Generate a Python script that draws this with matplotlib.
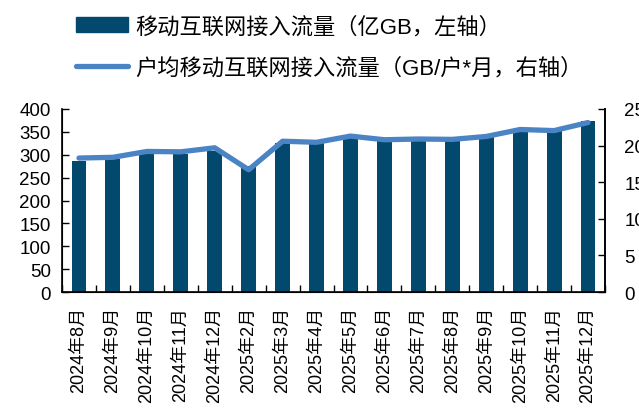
import matplotlib
matplotlib.use("Agg")
import matplotlib.pyplot as plt
from matplotlib.patches import Patch
from matplotlib.lines import Line2D
import numpy as np

plt.rcParams['font.family'] = ['Liberation Sans', 'Noto Sans CJK SC', 'DejaVu Sans']

months = ["2024年8月", "2024年9月", "2024年10月", "2024年11月", "2024年12月",
          "2025年2月", "2025年3月", "2025年4月", "2025年5月", "2025年6月",
          "2025年7月", "2025年8月", "2025年9月", "2025年10月", "2025年11月", "2025年12月"]
traffic = [287, 291, 303, 302, 309, 276, 326, 325, 338, 333, 333, 333, 340, 353, 353, 373]
per_user = [18.3, 18.4, 19.2, 19.15, 19.7, 16.7, 20.6, 20.45, 21.3, 20.8, 20.9, 20.85, 21.25, 22.2, 22.05, 23.15]

bar_color = "#03496d"
line_color = "#4a84c4"

fig = plt.figure(figsize=(6.39, 4.14), dpi=100)
ax = fig.add_axes([62/639, 1-293/414, (605-62)/639, (293-110)/414])
x = np.arange(len(months))
ax.bar(x, traffic, width=0.44, color=bar_color, zorder=2)
ax.set_ylim(0, 400)
ax.set_xlim(-0.5, len(months)-0.5)
ax.set_yticks(np.arange(0, 401, 50))
ax.tick_params(axis='y', direction='in', length=5, width=1, labelsize=13.5, pad=8)
ax.set_xticks(x)
ax.set_xticklabels(months, rotation=90, fontsize=13)
ax.tick_params(axis='x', which='major', length=0, pad=10)
ax.set_xticks(np.arange(-0.5, len(months), 1), minor=True)
ax.tick_params(axis='x', which='minor', direction='in', length=5, width=1)
ax.spines['top'].set_visible(False)
for s in ['left', 'bottom', 'right']:
    ax.spines[s].set_linewidth(1.2)

ax2 = ax.twinx()
ax2.plot(x, per_user, color=line_color, lw=3.8, solid_capstyle='round', zorder=3)
ax2.set_ylim(0, 25)
ax2.set_yticks(np.arange(0, 26, 5))
ax2.tick_params(axis='y', direction='in', length=5, width=1, labelsize=13.5, pad=14)
ax2.spines['top'].set_visible(False)
ax2.spines['right'].set_linewidth(1.2)

handles = [Patch(facecolor=bar_color, edgecolor=bar_color),
           Line2D([0], [0], color=line_color, lw=3.8, solid_capstyle='round')]
labels = ["移动互联网接入流量（亿GB，左轴）", "户均移动互联网接入流量（GB/户*月，右轴）"]
fig.legend(handles, labels, loc='upper left', bbox_to_anchor=(76/639, 1-17/414),
           frameon=False, fontsize=16, handlelength=2.35, handleheight=0.7,
           handletextpad=0.3, labelspacing=0.9, borderpad=0, borderaxespad=0)

fig.savefig("out.png", dpi=100)
